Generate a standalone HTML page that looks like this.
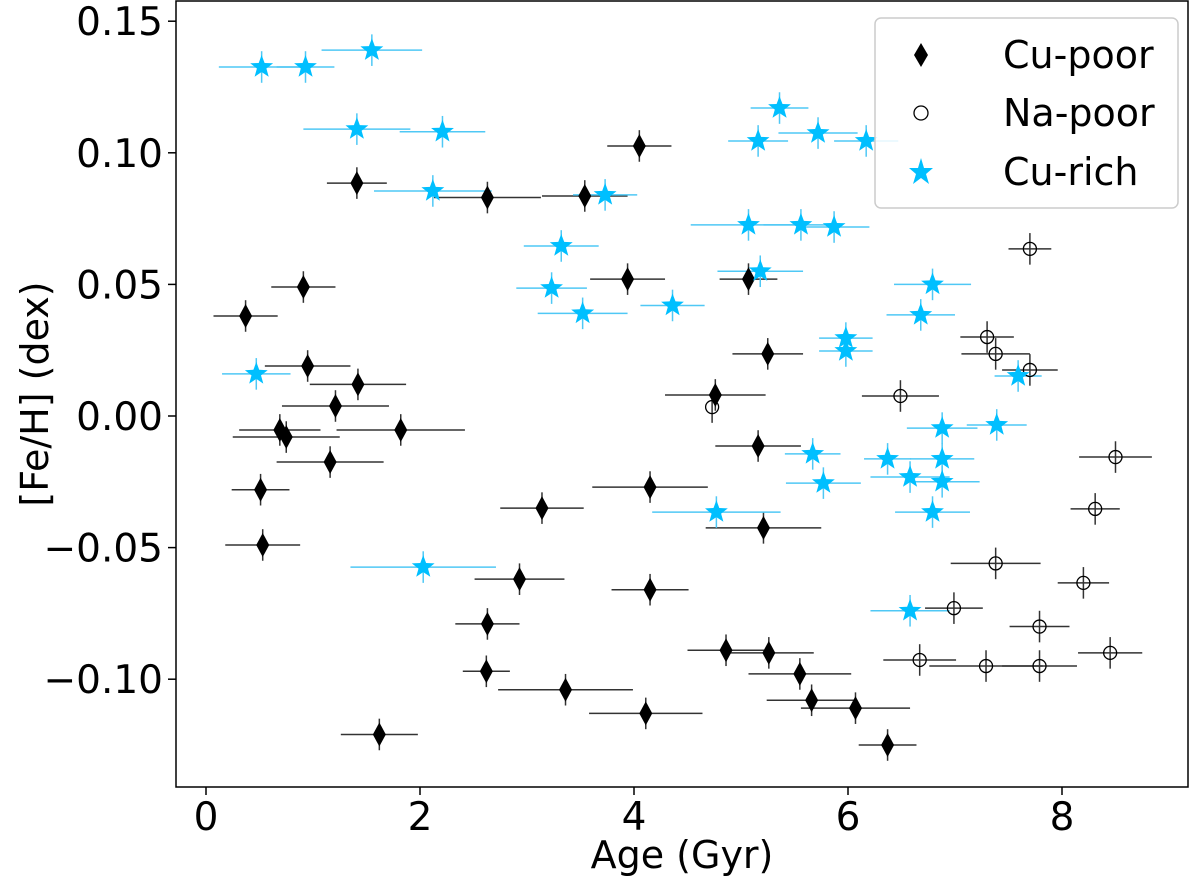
<!DOCTYPE html>
<html><head><meta charset="utf-8"><style>
body{margin:0;background:#fff;}
svg text{font-family:"DejaVu Sans","Liberation Sans",sans-serif;fill:#000;}
</style></head><body>
<svg id="chart" width="1200" height="878" viewBox="0 0 1200 878" xmlns="http://www.w3.org/2000/svg">
<rect x="0" y="0" width="1200" height="878" fill="#fff"/>
<g id="plot"></g>
<rect x="176" y="1" width="1012" height="786" fill="none" stroke="#000" stroke-width="1.5"/>
<text x="682" y="868" font-size="38" text-anchor="middle">Age (Gyr)</text>
<text transform="translate(48,394) rotate(-90)" font-size="38" text-anchor="middle">[Fe/H] (dex)</text>
<g>
<rect x="875" y="18" width="303" height="190" rx="6" fill="#fff" fill-opacity="0.85" stroke="#ccc" stroke-width="1.5"/>
<path d="M921,43 L928,55 L921,67 L914,55 Z" fill="#000"/>
<text x="1003" y="68" font-size="38">Cu-poor</text>
<circle cx="921" cy="113" r="7" fill="none" stroke="#000" stroke-width="1.3"/>
<text x="1003" y="126" font-size="38">Na-poor</text>
<path d="M921,158 L924,168 L933,168 L926,174 L929,184 L921,178 L913,184 L916,174 L909,168 L918,168 Z" fill="#00bfff"/>
<text x="1003" y="185" font-size="38">Cu-rich</text>
</g>
</svg>
<script>
const xTicks=[0,2,4,6,8];
const yTicks=[0.15,0.10,0.05,0.00,-0.05,-0.10];
const yTickLabels=["0.15","0.10","0.05","0.00","\u22120.05","\u22120.10"];
const cuPoorAge=[1.41,4.05,2.63,3.54,3.94,5.07,0.91,0.37,5.25,0.95,1.42,4.76,1.21,0.69,0.75,1.82,5.16,1.16,0.51,4.15,3.14,5.21,0.53,2.93,4.15,2.63,4.86,5.26,2.62,5.55,3.36,5.66,6.07,4.11,1.62,6.37];
const cuPoorFe=[0.0885,0.1026,0.083,0.0836,0.052,0.052,0.049,0.038,0.0236,0.019,0.012,0.008,0.0038,-0.0053,-0.008,-0.0053,-0.0114,-0.0175,-0.028,-0.027,-0.035,-0.0425,-0.049,-0.062,-0.066,-0.079,-0.089,-0.090,-0.097,-0.098,-0.104,-0.108,-0.111,-0.113,-0.121,-0.125];
const cuPoorAgeErr=[0.28,0.3,0.5,0.4,0.35,0.27,0.3,0.3,0.33,0.4,0.45,0.47,0.5,0.38,0.5,0.6,0.4,0.5,0.27,0.54,0.39,0.54,0.35,0.42,0.36,0.3,0.36,0.42,0.22,0.48,0.63,0.42,0.51,0.53,0.36,0.27];
const naPoorAge=[7.7,7.3,7.38,7.7,6.49,4.73,8.5,8.31,7.38,8.2,6.99,7.79,8.45,6.67,7.29,7.79];
const naPoorFe=[0.0635,0.030,0.0236,0.0175,0.0076,0.0034,-0.0156,-0.0353,-0.056,-0.0634,-0.073,-0.080,-0.090,-0.0927,-0.095,-0.095];
const naPoorAgeErr=[0.2,0.25,0.32,0.26,0.36,0,0.34,0.23,0.42,0.24,0.27,0.28,0.3,0.34,0.53,0.35];
const cuRichAge=[0.52,0.93,1.55,1.41,2.21,5.36,5.72,5.16,6.17,2.12,3.73,3.32,5.07,5.56,5.87,3.23,5.18,4.36,3.52,6.79,6.68,5.98,5.98,7.59,0.47,6.88,7.39,5.67,6.37,6.88,6.58,6.88,5.77,6.79,4.77,2.03,6.58];
const cuRichFe=[0.1326,0.1326,0.139,0.109,0.108,0.117,0.1075,0.1045,0.1045,0.0855,0.084,0.0646,0.0726,0.0726,0.0718,0.0486,0.055,0.042,0.039,0.050,0.0384,0.0296,0.0247,0.0152,0.016,-0.0046,-0.0034,-0.0144,-0.0163,-0.0163,-0.0232,-0.025,-0.0255,-0.0365,-0.0365,-0.0574,-0.074];
const cuRichAgeErr=[0.4,0.27,0.47,0.5,0.4,0.27,0.37,0.28,0.3,0.55,0.3,0.35,0.54,0.35,0.33,0.33,0.4,0.3,0.42,0.36,0.32,0.25,0.25,0.22,0.32,0.33,0.28,0.26,0.22,0.3,0.37,0.35,0.35,0.35,0.6,0.68,0.37];
const feErr=0.006;

const NS="http://www.w3.org/2000/svg";
const X=v=>206+v*107;
const Y=v=>416-v*2632;
const plot=document.getElementById('plot');
function mk(tag,attrs){const e=document.createElementNS(NS,tag);for(const k in attrs)e.setAttribute(k,attrs[k]);return e;}

xTicks.forEach(t=>{
  const l=mk('line',{x1:X(t),x2:X(t),y1:787,y2:795,stroke:'#000','stroke-width':1.5});
  
  
  plot.appendChild(l);
  const tx=mk('text',{x:X(t),y:830,'font-size':39,'text-anchor':'middle'});
  tx.textContent=t;
  
  
  plot.appendChild(tx);
});
yTicks.forEach((t,i)=>{
  const l=mk('line',{x1:168,x2:176,y1:Y(t),y2:Y(t),stroke:'#000','stroke-width':1.5});
  
  
  plot.appendChild(l);
  const tx=mk('text',{x:163,y:Y(t)+14,'font-size':39,'text-anchor':'end'});
  tx.textContent=yTickLabels[i];
  
  
  plot.appendChild(tx);
});

function errbars(ax,fe,axErr,color,name){
  ax.forEach((a,i)=>{
    const g=mk('g',{stroke:color,'stroke-width':1.5});
    
    
    g.appendChild(mk('line',{x1:X(a-axErr[i]),x2:X(a+axErr[i]),y1:Y(fe[i]),y2:Y(fe[i])}));
    g.appendChild(mk('line',{x1:X(a),x2:X(a),y1:Y(fe[i]-feErr),y2:Y(fe[i]+feErr)}));
    plot.appendChild(g);
  });
}
errbars(cuPoorAge,cuPoorFe,cuPoorAgeErr,'#333','cu-poor');
errbars(naPoorAge,naPoorFe,naPoorAgeErr,'#333','na-poor');
errbars(cuRichAge,cuRichFe,cuRichAgeErr,'#4fc8f5','cu-rich');

cuPoorAge.forEach((a,i)=>{
  const x=X(a),y=Y(cuPoorFe[i]);
  const p=mk('path',{d:`M${x},${y-12} L${x+6.5},${y} L${x},${y+12} L${x-6.5},${y} Z`,fill:'#000'});
  
  
  plot.appendChild(p);
});
naPoorAge.forEach((a,i)=>{
  const c=mk('circle',{cx:X(a),cy:Y(naPoorFe[i]),r:6.5,fill:'none',stroke:'#000','stroke-width':1.3});
  
  
  plot.appendChild(c);
});
cuRichAge.forEach((a,i)=>{
  const x=X(a),y=Y(cuRichFe[i]);
  let d='';
  for(let k=0;k<10;k++){const r=k%2?5:12;const ang=-Math.PI/2+k*Math.PI/5;d+=(k?'L':'M')+(x+r*Math.cos(ang)).toFixed(1)+','+(y+r*Math.sin(ang)).toFixed(1);}
  const p=mk('path',{d:d+'Z',fill:'#00bfff'});
  
  
  plot.appendChild(p);
});
</script>
</body></html>
